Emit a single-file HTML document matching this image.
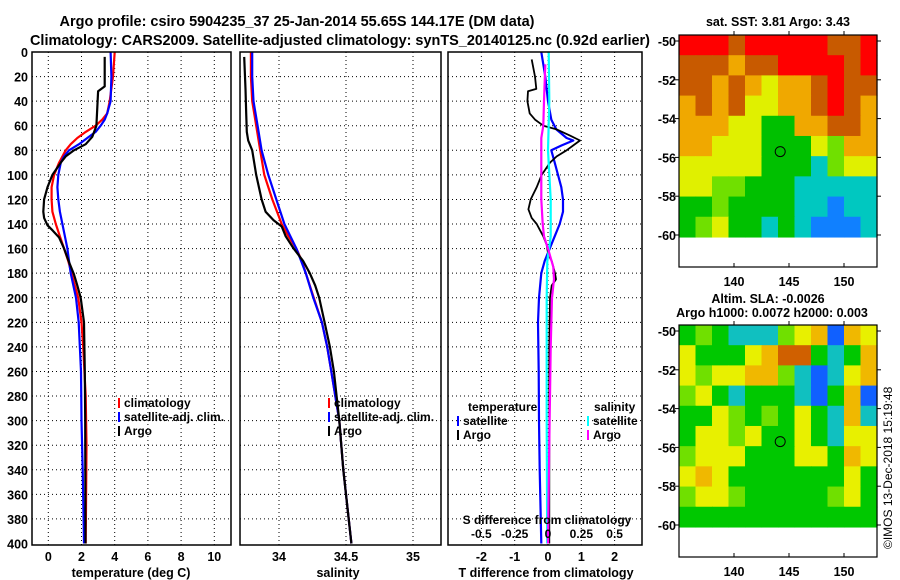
<!DOCTYPE html>
<html><head><meta charset="utf-8"><style>
html,body{margin:0;padding:0;background:#fff;}
svg{display:block;font-family:"Liberation Sans",sans-serif;font-weight:bold;}
</style></head><body>
<svg id="c" width="900" height="580" viewBox="0 0 900 580">
<rect width="900" height="580" fill="#fff"/>
<text x="297" y="26" text-anchor="middle" font-size="15" textLength="475" lengthAdjust="spacingAndGlyphs">Argo profile: csiro 5904235_37 25-Jan-2014 55.65S 144.17E (DM data)</text>
<text x="340" y="45" text-anchor="middle" font-size="15" textLength="620" lengthAdjust="spacingAndGlyphs">Climatology: CARS2009. Satellite-adjusted climatology: synTS_20140125.nc (0.92d earlier)</text>
</svg>
<script>
// ---- data ----
const depthTicks=[0,20,40,60,80,100,120,140,160,180,200,220,240,260,280,300,320,340,360,380,400];
const tempTicks=[0,2,4,6,8,10];
const salTicks=[34,34.5,35];
const tdiffTicks=[-2,-1,0,1,2];
const sdiffTicks=[-0.5,-0.25,0,0.25,0.5];
const sdiffLabels=['-0.5','-0.25','0','0.25','0.5'];
// temperature profiles
const tArgoD=[4,28,32,60,69,75,80,85,90,100,110,120,130,135,141,145,151,160,171,181,190,200,220,260,300,400];
const tArgoV=[3.4,3.4,3.0,2.9,2.65,2.25,1.55,1.05,0.75,0.25,-0.05,-0.25,-0.3,-0.25,-0.05,0.25,0.65,0.95,1.25,1.55,1.75,1.95,2.15,2.2,2.22,2.24];
const tClimD=[0,20,40,50,55,60,65,70,75,80,90,100,110,120,130,140,150,160,170,180,200,220,240,280,320,400];
const tClimV=[4.0,3.9,3.7,3.55,3.25,2.85,2.25,1.75,1.35,1.05,0.65,0.35,0.2,0.2,0.25,0.45,0.7,0.95,1.2,1.4,1.8,2.0,2.1,2.25,2.3,2.25];
const tSatD=[0,20,40,50,55,60,65,70,75,80,85,90,100,110,120,130,140,150,160,170,180,200,220,260,300,340,400];
const tSatV=[3.75,3.8,3.75,3.55,3.4,3.15,2.85,2.35,1.85,1.25,0.95,0.75,0.6,0.55,0.6,0.7,0.85,1.0,1.15,1.25,1.35,1.67,1.83,1.97,2.0,2.07,2.15];
// salinity profiles
const sArgoD=[4,30,50,65,72,80,100,120,130,137,142,150,160,170,180,190,200,220,240,260,280,300,340,360,380,400];
const sArgoV=[33.74,33.75,33.755,33.76,33.77,33.8,33.83,33.87,33.9,33.96,34.02,34.05,34.11,34.18,34.23,34.27,34.3,34.34,34.38,34.41,34.43,34.45,34.48,34.5,34.52,34.54];
const sClimD=[0,20,40,60,80,100,120,140,150,160,170,180,200,220,240,260,280,300,340,400];
const sClimV=[33.79,33.79,33.8,33.83,33.86,33.89,33.95,34.02,34.07,34.13,34.17,34.2,34.26,34.32,34.36,34.39,34.42,34.45,34.48,34.54];
const sSatD=[0,20,40,60,80,100,120,140,160,180,200,220,240,260,280,300,340,400];
const sSatV=[33.8,33.8,33.81,33.84,33.87,33.92,33.98,34.04,34.13,34.2,34.256,34.32,34.36,34.39,34.42,34.45,34.48,34.54];
// differences
const dTArgoD=[6,20,30,32,40,50,55,60,63,68,72,76,80,85,90,100,110,120,128,135,140,145,150,157,165,170,180,185,190,200,240,400];
const dTArgoV=[-0.49,-0.39,-0.35,-0.6,-0.62,-0.55,-0.39,-0.14,0.26,0.66,0.96,0.76,0.56,0.26,0.06,-0.19,-0.34,-0.52,-0.59,-0.49,-0.34,-0.24,-0.14,-0.04,0.01,0.11,0.21,0.24,0.11,0.06,0.04,0.04];
const dTSatD=[0,20,40,55,63,70,72,76,80,90,100,110,120,130,140,150,160,170,180,200,220,260,300,340,400];
const dTSatV=[-0.2,-0.08,0.0,0.1,0.25,0.56,0.76,0.41,0.1,0.2,0.3,0.4,0.45,0.45,0.35,0.2,0.05,-0.1,-0.2,-0.27,-0.3,-0.28,-0.27,-0.25,-0.2];
const dSArgoD=[10,40,60,70,80,100,120,140,150,160,175,185,200,240,280,300,400];
const dSArgoV=[-0.02,-0.03,-0.035,-0.05,-0.05,-0.05,-0.05,-0.04,-0.03,0,0.04,0.045,0.03,0.02,0.015,0.012,0.0];
const dSSatD=[0,40,80,120,150,170,200,300,400];
const dSSatV=[0.005,0.01,0.0,0.02,0.02,-0.005,-0.01,-0.01,-0.006];
// maps (12 cols x 10 rows, lon 135-153, lat -50 to -60)
const sstGrid=["RRRORRRRROOR","OOOoOORRRROR","OOoOoYooOROO","oOoOYYooOROo","oooYYGGooOOo","ooYYYGGGYgoo","YYYYYGGGCgYY","YYggGGGCCCCC","GGgGGGGCCBCC","GgYGGCGCBBBC"];
const slaGrid=["GgGCCCgYoBoY","YGGGYoOOGCGo","YgYYoogCBCYo","gYGCGGGCBGoB","GGYgGgGYGCoC","GYYgYGGYGCYY","gYYYGGGYYGoY","YoYGGGGGGGYG","gYYgGGGGGgYG","GGGGGGGGGGGG"];
const floatLon=144.2, floatLat=-55.7;
const lonTicks=[140,145,150];
const latTicks=[-50,-52,-54,-56,-58,-60];

// ---- geometry ----
const svg=document.getElementById('c');
const NS='http://www.w3.org/2000/svg';
function mk(tag,attrs,parent){const e=document.createElementNS(NS,tag);for(const k in attrs)e.setAttribute(k,attrs[k]);(parent||svg).appendChild(e);return e;}
const yTop=52, yBot=543.5;
const yD=d=>yTop+d*(yBot-yTop)/400;
const p1={l:32,r:231,x:v=>48.3+v*16.6};
const p2={l:240,r:441,x:v=>279+(v-34)*134};
const p3={l:448,r:642,x:v=>548+v*33.3};
const p3s=v=>548+v*133.3;

function panel(p,name){
  const g=mk('g',{});
  
  
  for(const d of depthTicks){ if(d===0||d===400) continue;
    const l=mk('line',{x1:p.l,x2:p.r,y1:yD(d),y2:yD(d),stroke:'#000','stroke-width':1,'stroke-dasharray':'1,3'},g);
    
    
  }
  return g;
}
function vgrid(g,xs,name){for(const x of xs){const l=mk('line',{x1:x,x2:x,y1:yTop,y2:yBot+1,stroke:'#000','stroke-width':1,'stroke-dasharray':'1,3'},g);
  
  }}
function frame(p,g){const r=mk('rect',{x:p.l,y:yTop,width:p.r-p.l,height:yBot+1.5-yTop,fill:'none',stroke:'#000','stroke-width':1.5},g);
  
  }
function line(g,ds,vs,fx,color,name,w){
  const pts=ds.map((d,i)=>fx(vs[i]).toFixed(1)+','+yD(d).toFixed(1)).join(' ');
  const pl=mk('polyline',{points:pts,fill:'none',stroke:color,'stroke-width':w||2.2,'stroke-linejoin':'round'},g);
  
  
}
function txt(x,y,s,opts,name,parent){const t=mk('text',Object.assign({x:x,y:y,'font-size':12.5},opts||{}),parent);t.textContent=s;
  
  
  return t;}

// Panel 1
const g1=panel(p1,'temperature-panel');
vgrid(g1,tempTicks.map(p1.x),'v-gridline');
line(g1,tClimD,tClimV,p1.x,'#f00','climatology-temp-line');
line(g1,tSatD,tSatV,p1.x,'#00f','satellite-temp-line');
line(g1,tArgoD,tArgoV,p1.x,'#000','argo-temp-line');
frame(p1,g1);
depthTicks.forEach(d=>txt(28,yD(d)+5,String(d),{'text-anchor':'end'},'depth-tick-label'));
tempTicks.forEach(v=>txt(p1.x(v),561,String(v),{'text-anchor':'middle'},'temp-tick-label'));
txt(131,577,'temperature (deg C)',{'text-anchor':'middle'},'temp-axis-title');
// legend 1
[['#f00','climatology',407],['#00f','satellite-adj. clim.',421],['#000','Argo',435]].forEach(([c,l,y])=>{
  const r=mk('rect',{x:118,y:y-9,width:2,height:10,fill:c});
  
  
  txt(124,y,l,{'font-size':12},'legend-entry');});

// Panel 2
const g2=panel(p2,'salinity-panel');
vgrid(g2,salTicks.map(p2.x),'v-gridline');
line(g2,sClimD,sClimV,p2.x,'#f00','climatology-sal-line');
line(g2,sSatD,sSatV,p2.x,'#00f','satellite-sal-line');
line(g2,sArgoD,sArgoV,p2.x,'#000','argo-sal-line');
frame(p2,g2);
salTicks.forEach(v=>txt(p2.x(v),561,String(v),{'text-anchor':'middle'},'sal-tick-label'));
txt(338,577,'salinity',{'text-anchor':'middle'},'sal-axis-title');
[['#f00','climatology',407],['#00f','satellite-adj. clim.',421],['#000','Argo',435]].forEach(([c,l,y])=>{
  const r=mk('rect',{x:328,y:y-9,width:2,height:10,fill:c});
  
  
  txt(334,y,l,{'font-size':12},'legend-entry');});

// Panel 3
const g3=panel(p3,'difference-panel');
vgrid(g3,tdiffTicks.map(p3.x),'v-gridline');
line(g3,dTSatD,dTSatV,p3.x,'#00f','satellite-tdiff-line');
line(g3,dTArgoD,dTArgoV,p3.x,'#000','argo-tdiff-line',1.8);
line(g3,dSSatD,dSSatV,p3s,'#0ff','satellite-sdiff-line');
line(g3,dSArgoD,dSArgoV,p3s,'#f0f','argo-sdiff-line');
frame(p3,g3);
tdiffTicks.forEach(v=>txt(p3.x(v),561,String(v),{'text-anchor':'middle'},'tdiff-tick-label'));
txt(546,577,'T difference from climatology',{'text-anchor':'middle'},'tdiff-axis-title');
txt(547,524,'S difference from climatology',{'text-anchor':'middle','font-size':12},'sdiff-axis-title');
sdiffTicks.forEach((v,i)=>txt(p3s(v),538,sdiffLabels[i],{'text-anchor':'middle','font-size':12},'sdiff-tick-label'));
txt(468,411,'temperature',{'font-size':12},'legend-heading-temperature');
txt(594,411,'salinity',{'font-size':12},'legend-heading-salinity');
[['#00f','satellite',425,457],['#000','Argo',439,457],['#0ff','satellite',425,587],['#f0f','Argo',439,587]].forEach(([c,l,y,x])=>{
  const r=mk('rect',{x:x,y:y-9,width:2,height:10,fill:c});
  
  
  txt(x+6,y,l,{'font-size':12},'legend-entry');});

// Maps
const pal={R:'#ff0000',O:'#c85a00',o:'#f0a800',Y:'#e0f000',g:'#70e000',G:'#00c000',C:'#00c8c0',B:'#1080ff'};
const palSla={R:'#ff0000',O:'#d06000',o:'#f0b800',Y:'#e8f000',g:'#70e000',G:'#00c800',C:'#10c0c0',B:'#1060ff'};
function drawMap(grid,top,name,palette){
  const L=679,R=877;
  const lonX=lon=>L+(lon-135)*(198/18);
  const latY=lat=>top+6+(-50-lat)*19.4;
  const g=mk('g',{});
  
  
  const y0=top, y1=latY(-60.1);
  const rows=grid.length, cols=grid[0].length;
  const cw=(R-L)/cols, rh=(y1-y0)/rows;
  grid.forEach((row,i)=>{for(let j=0;j<cols;j++){
    const r=mk('rect',{x:L+j*cw,y:y0+i*rh,width:cw+0.6,height:rh+0.6,fill:palette[row[j]]},g);
    
    }});
  const fr=mk('rect',{x:L,y:top,width:R-L,height:232,fill:'none',stroke:'#000','stroke-width':1.2},g);
  
  
  lonTicks.forEach(v=>{const x=lonX(v);
    mk('line',{x1:x,x2:x,y1:top,y2:top-4,stroke:'#000'},g);
    mk('line',{x1:x,x2:x,y1:top+232,y2:top+228,stroke:'#000'},g);
    txt(x,top+251,String(v),{'text-anchor':'middle'},'lon-tick-label',g);});
  latTicks.forEach(v=>{const y=latY(v);
    mk('line',{x1:L,x2:L-4,y1:y,y2:y,stroke:'#000'},g);
    mk('line',{x1:R,x2:R+4,y1:y,y2:y,stroke:'#000'},g);
    txt(676,y+5,String(v),{'text-anchor':'end'},'lat-tick-label',g);});
  const c=mk('circle',{cx:lonX(floatLon),cy:latY(floatLat),r:5,fill:'none',stroke:'#000','stroke-width':1},g);
  
  
}
drawMap(sstGrid,35,'sst-map',pal);
drawMap(slaGrid,325,'sla-map',palSla);
txt(778,26,'sat. SST: 3.81  Argo: 3.43',{'text-anchor':'middle'},'sst-map-title');
txt(768,303,'Altim. SLA: -0.0026',{'text-anchor':'middle'},'sla-map-title');
txt(772,317,'Argo h1000: 0.0072 h2000: 0.003',{'text-anchor':'middle'},'sla-map-subtitle');
txt(0,0,'\u00a9IMOS 13-Dec-2018 15:19:48',{'font-size':12,'font-weight':'normal',transform:'translate(892,549) rotate(-90)'},'copyright-stamp');
</script>
</body></html>
